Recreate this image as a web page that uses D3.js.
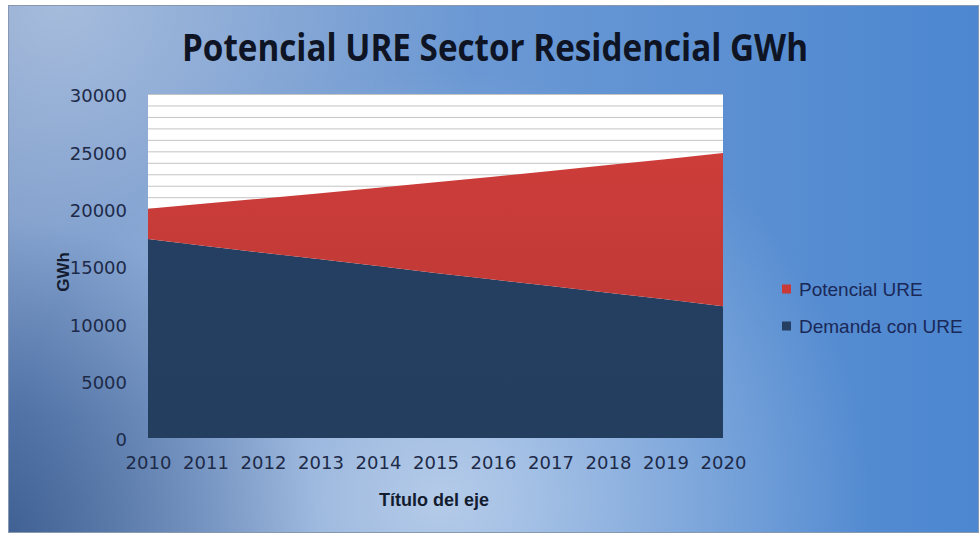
<!DOCTYPE html>
<html><head><meta charset="utf-8">
<script src="https://cdn.jsdelivr.net/npm/d3@7"></script>
<style>html,body{margin:0;padding:0;background:#fff;}svg{display:block;}</style>
</head><body>
<svg id="c" width="979" height="533"></svg>
<script>
// ---- data ----
const years = [2010,2011,2012,2013,2014,2015,2016,2017,2018,2019,2020];
const demandaConURE = [17350,16750,16160,15580,15000,14400,13830,13250,12670,12090,11500];
const potencialURE  = [2650,3690,4730,5770,6820,7900,8960,10040,11130,12230,13350];
const yTicks = [0,5000,10000,15000,20000,25000,30000];
const seriesNames = ["Potencial URE","Demanda con URE"];
const seriesColors = ["#c93a38","#243f61"];
const titleText = "Potencial URE Sector Residencial GWh";
const xTitle = "Título del eje";
const yTitle = "GWh";

const svg = d3.select("#c");
const W = 979, H = 533;
const defs = svg.append("defs");

// background gradients
const lg = defs.append("linearGradient").attr("id","bgLin").attr("x1","0").attr("y1","0").attr("x2","1").attr("y2","0");
lg.append("stop").attr("offset","0").attr("stop-color","#6b8ec3");
lg.append("stop").attr("offset","0.5").attr("stop-color","#6a98d4");
lg.append("stop").attr("offset","1").attr("stop-color","#4c87d0");
const rg1 = defs.append("radialGradient").attr("id","hl").attr("gradientUnits","userSpaceOnUse")
  .attr("cx",440).attr("cy",500).attr("r",430);
rg1.append("stop").attr("offset","0").attr("stop-color","#ffffff").attr("stop-opacity",0.5);
rg1.append("stop").attr("offset","1").attr("stop-color","#ffffff").attr("stop-opacity",0);
const rg2 = defs.append("radialGradient").attr("id","dk").attr("gradientUnits","userSpaceOnUse")
  .attr("cx",0).attr("cy",540).attr("r",320);
rg2.append("stop").attr("offset","0").attr("stop-color","#1c3a6a").attr("stop-opacity",0.55);
rg2.append("stop").attr("offset","1").attr("stop-color","#1c3a6a").attr("stop-opacity",0);
const rg3 = defs.append("radialGradient").attr("id","tl").attr("gradientUnits","userSpaceOnUse")
  .attr("cx",60).attr("cy",0).attr("r",420);
rg3.append("stop").attr("offset","0").attr("stop-color","#ffffff").attr("stop-opacity",0.4);
rg3.append("stop").attr("offset","1").attr("stop-color","#ffffff").attr("stop-opacity",0);

const bx = 8, by = 5;
["url(#bgLin)","url(#tl)","url(#hl)","url(#dk)"].forEach(f=>{
  svg.append("rect").attr("x",bx).attr("y",by).attr("width",W-bx).attr("height",H-by).attr("fill",f);
});
svg.append("rect").attr("x",bx+0.5).attr("y",by+0.5).attr("width",W-bx-1).attr("height",H-by-1)
  .attr("fill","none").attr("stroke","#8898b0").attr("stroke-width",1);

// scales
const x = d3.scaleLinear().domain([years[0], years[years.length-1]]).range([148,723]);
const y = d3.scaleLinear().domain([0,30000]).range([438,94]);

// plot area
svg.append("rect").attr("x",x.range()[0]).attr("y",y(30000)).attr("width",x.range()[1]-x.range()[0])
  .attr("height",y(0)-y(30000)).attr("fill","#ffffff");

// gridlines every 1000
const grid = d3.range(1000,30001,1000);
svg.append("g").selectAll("line").data(grid).join("line")
  .attr("x1",x.range()[0]).attr("x2",x.range()[1])
  .attr("y1",d=>y(d)+0.5).attr("y2",d=>y(d)+0.5)
  .attr("stroke","#c4c4c4").attr("stroke-width",1);

// stacked areas
const rows = years.map((yr,i)=>({year:yr, demanda:demandaConURE[i], potencial:potencialURE[i]}));
const stack = d3.stack().keys(["demanda","potencial"]);
const stacked = stack(rows);
const area = d3.area().x(d=>x(d.data.year)).y0(d=>y(d[0])).y1(d=>y(d[1]));

const gRed = defs.append("linearGradient").attr("id","redG").attr("x1","0").attr("y1","0").attr("x2","0").attr("y2","1");
gRed.append("stop").attr("offset","0").attr("stop-color","#cd3d3a");
gRed.append("stop").attr("offset","1").attr("stop-color","#c03936");
const gBlue = defs.append("linearGradient").attr("id","blueG").attr("x1","0").attr("y1","0").attr("x2","0").attr("y2","1");
gBlue.append("stop").attr("offset","0").attr("stop-color","#253f62");
gBlue.append("stop").attr("offset","1").attr("stop-color","#243e5f");

svg.append("path").datum(stacked[0]).attr("d",area).attr("fill","url(#blueG)");
svg.append("path").datum(stacked[1]).attr("d",area).attr("fill","url(#redG)");

// axes
const txtCol = "#1d2a48";
const tickFont = "'DejaVu Sans', Verdana, sans-serif";
const yAxis = d3.axisLeft(y).tickValues(yTicks).tickSize(0).tickPadding(21).tickFormat(d3.format("d"));
const gy = svg.append("g").attr("transform",`translate(${x.range()[0]},2)`).call(yAxis);
gy.select(".domain").remove();
gy.selectAll("text").attr("fill",txtCol).style("font-family",tickFont).style("font-size","18px");

const xAxis = d3.axisBottom(x).tickValues(years).tickSize(0).tickPadding(18).tickFormat(d3.format("d"));
const gx = svg.append("g").attr("transform",`translate(0,${y(0)})`).call(xAxis);
gx.select(".domain").remove();
gx.selectAll("text").attr("fill",txtCol).style("font-family",tickFont).style("font-size","18px");

// titles
svg.append("text").attr("x",495).attr("y",61).attr("text-anchor","middle")
  .attr("fill","#0e1424").style("font-family","'Open Sans', 'Liberation Sans', sans-serif")
  .style("font-weight","700").style("font-size","38px")
  .attr("textLength",626).attr("lengthAdjust","spacingAndGlyphs").text(titleText);

svg.append("text").attr("x",434).attr("y",506).attr("text-anchor","middle")
  .attr("fill","#141c30").style("font-family","'Liberation Sans', Arial, sans-serif")
  .style("font-weight","700").style("font-size","18px").text(xTitle);

svg.append("text").attr("transform","translate(69,272) rotate(-90)").attr("text-anchor","middle")
  .attr("fill","#141c30").style("font-family","'Liberation Sans', Arial, sans-serif")
  .style("font-weight","700").style("font-size","17px").text(yTitle);

// legend
const lgd = svg.append("g");
const ly = [289, 326];
seriesNames.forEach((n,i)=>{
  lgd.append("rect").attr("x",782).attr("y",ly[i]-4.5).attr("width",9).attr("height",9).attr("fill",seriesColors[i]);
  lgd.append("text").attr("x",799).attr("y",ly[i]).attr("dy","0.35em")
    .attr("fill","#1a2858").style("font-family","'Liberation Sans', Arial, sans-serif").style("font-size","19px").text(n);
});
</script>
</body></html>
